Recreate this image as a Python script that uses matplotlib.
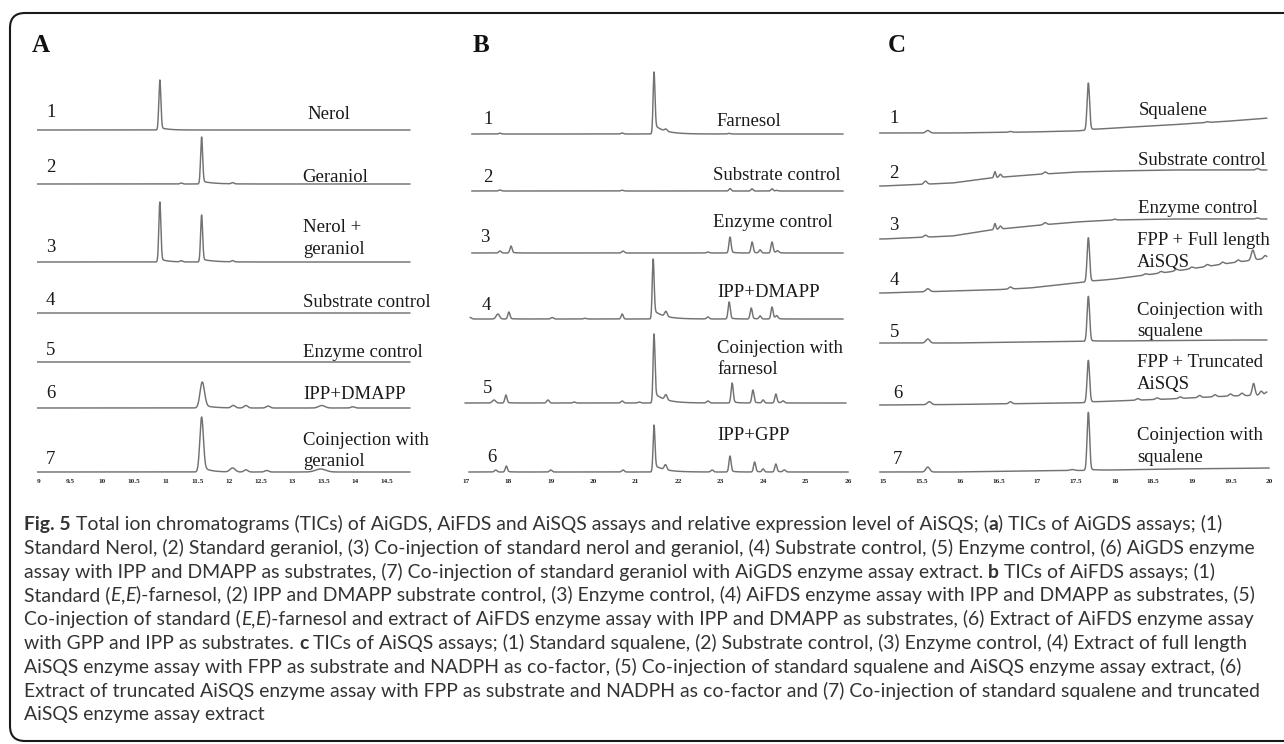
import numpy as np
import matplotlib
matplotlib.use("Agg")
import matplotlib.pyplot as plt
from matplotlib.patches import FancyBboxPatch
from matplotlib.transforms import IdentityTransform

W, H = 1284, 744

# ------------------------------------------------------------------ DATA
# peaks: (retention time [min], height [a.u.], sigma [min], tail fraction, tail tau [min])
A_ticks = [9, 9.5, 10, 10.5, 11, 11.5, 12, 12.5, 13, 13.5, 14, 14.5]
A_numbers = ["1", "2", "3", "4", "5", "6", "7"]
A_names = ["Nerol", "Geraniol", "Nerol +\ngeraniol", "Substrate control",
           "Enzyme control", "IPP+DMAPP", "Coinjection with\ngeraniol"]
A_peaks = [
    [(10.91, 50, 0.016, 0.05, 0.12)],
    [(11.57, 47, 0.016, 0.06, 0.18), (11.25, 1.0, 0.02), (12.06, 1.2, 0.02)],
    [(10.91, 60, 0.016, 0.05, 0.12), (11.57, 47, 0.016, 0.06, 0.18),
     (11.25, 1.2, 0.02), (12.06, 1.2, 0.02)],
    [],
    [],
    [(11.58, 26, 0.035, 0.12, 0.15), (12.07, 2.5, 0.03), (12.27, 2.5, 0.03),
     (12.62, 2.0, 0.03), (13.47, 2.5, 0.05), (13.96, 1.2, 0.03)],
    [(11.57, 55, 0.028, 0.10, 0.12), (12.06, 4.0, 0.04), (12.27, 2.2, 0.03),
     (12.60, 1.5, 0.03), (13.45, 3.0, 0.08)],
]
A_range = [(8.98, 14.86)] * 7

B_ticks = [17, 18, 19, 20, 21, 22, 23, 24, 25, 26]
B_numbers = ["1", "2", "3", "4", "5", "6"]
B_names = ["Farnesol", "Substrate control", "Enzyme control", "IPP+DMAPP",
           "Coinjection with\nfarnesol", "IPP+GPP"]
B_peaks = [
    [(17.8, 0.8, 0.03), (20.68, 1.0, 0.03), (21.43, 62, 0.022, 0.15, 0.25),
     (21.71, 2.0, 0.03), (23.2, 0.6, 0.03)],
    [(17.8, 1.0, 0.03), (20.68, 0.8, 0.03), (23.22, 2.5, 0.025),
     (23.74, 2.2, 0.025), (24.21, 2.2, 0.025), (24.32, 0.6, 0.03)],
    [(17.8, 2.0, 0.03), (18.06, 7, 0.025, 0.10, 0.10), (20.70, 2.0, 0.03),
     (22.7, 1.0, 0.03), (23.22, 16, 0.025, 0.08, 0.10), (23.74, 11, 0.025, 0.08, 0.10),
     (23.93, 3.0, 0.025), (24.21, 11, 0.025, 0.10, 0.10), (24.34, 2.0, 0.03)],
    [(17.1, 1.5, 0.03), (17.75, 5, 0.04), (18.01, 7, 0.025, 0.08, 0.1),
     (19.03, 1.5, 0.03), (19.8, 0.7, 0.03), (20.68, 5, 0.025),
     (21.41, 60, 0.022, 0.15, 0.25), (21.71, 5, 0.03), (22.7, 2, 0.03),
     (23.2, 17, 0.025, 0.08, 0.1), (23.72, 11, 0.025, 0.08, 0.1), (23.93, 3, 0.025),
     (24.21, 12, 0.025, 0.10, 0.1), (24.32, 3, 0.03)],
    [(17.66, 3, 0.04), (17.94, 8, 0.025, 0.08, 0.1), (18.93, 3, 0.03),
     (19.55, 1, 0.03), (20.68, 2, 0.03), (21.08, 1, 0.03),
     (21.43, 69, 0.022, 0.15, 0.25), (21.71, 5, 0.03), (22.7, 2, 0.03),
     (23.27, 20, 0.025, 0.08, 0.1), (23.76, 13, 0.025, 0.08, 0.1), (24.0, 3, 0.025),
     (24.30, 9, 0.025, 0.10, 0.1), (24.47, 2, 0.03)],
    [(17.7, 2, 0.03), (17.95, 6, 0.025, 0.08, 0.1), (19.0, 2, 0.03),
     (20.7, 2, 0.03), (21.43, 47, 0.022, 0.15, 0.25), (21.7, 5, 0.03),
     (22.8, 2, 0.03), (23.22, 16, 0.025, 0.08, 0.1), (23.8, 10, 0.025, 0.08, 0.1),
     (24.0, 3, 0.025), (24.3, 8, 0.025, 0.10, 0.1), (24.5, 2, 0.03)],
]
B_range = [(17.14, 25.88), (17.14, 25.88), (17.14, 25.88), (17.10, 25.88),
           (16.98, 25.95), (17.07, 26.0)]

C_ticks = [15, 15.5, 16, 16.5, 17, 17.5, 18, 18.5, 19, 19.5, 20]
C_numbers = ["1", "2", "3", "4", "5", "6", "7"]
C_names = ["Squalene", "Substrate control", "Enzyme control",
           "FPP + Full length\nAiSQS", "Coinjection with\nsqualene",
           "FPP + Truncated\nAiSQS", "Coinjection with\nsqualene"]
C_peaks = [
    [(15.58, 2.5, 0.025), (16.65, 0.8, 0.02), (17.66, 47, 0.016, 0.02, 0.1),
     (19.2, 0.8, 0.02)],
    [(15.55, 3, 0.02), (16.45, 6, 0.012), (16.52, 3, 0.015), (17.1, 2, 0.02),
     (19.85, 1.5, 0.02)],
    [(15.55, 2, 0.02), (16.45, 6, 0.012), (16.52, 3, 0.015), (17.1, 2, 0.02),
     (18.0, 0.8, 0.02), (19.85, 1.0, 0.02)],
    [(15.58, 3, 0.025), (16.65, 2, 0.02), (17.66, 44, 0.016, 0.02, 0.1),
     (18.4, 1.2, 0.02), (18.6, 1.5, 0.02), (18.8, 1.5, 0.02), (19.0, 1.5, 0.02),
     (19.2, 1.8, 0.02), (19.4, 2, 0.02), (19.6, 2, 0.02), (19.79, 10, 0.02),
     (19.95, 3, 0.02)],
    [(15.58, 4, 0.025), (17.66, 45, 0.016, 0.02, 0.1)],
    [(15.6, 3, 0.025), (16.65, 2, 0.02), (17.66, 42, 0.016, 0.02, 0.1),
     (18.3, 1.5, 0.02), (18.55, 1.5, 0.02), (18.85, 1.5, 0.02), (19.1, 2, 0.02),
     (19.3, 2, 0.02), (19.5, 2, 0.02), (19.65, 2.5, 0.02), (19.8, 12, 0.018),
     (19.9, 4, 0.02), (19.97, 3, 0.02)],
    [(15.58, 5, 0.025), (17.45, 1, 0.03), (17.66, 58, 0.016, 0.02, 0.1)],
]
# baseline drift (a.u.) at these retention times, one row per trace
C_drift_t = [15.0, 15.9, 16.4, 16.9, 17.5, 18.0, 18.7, 19.5, 20.0]
C_drift = [
    [0, 0, 0.5, 1, 2, 5, 8, 12, 15],
    [0, 3, 8, 11, 14, 15, 16, 16, 16],
    [0, 3, 9, 13, 17, 19, 20, 20, 20],
    [0, 2, 3, 5, 10, 14, 21, 30, 35],
    [0, 0, 0.5, 1, 1.5, 2, 2.5, 3, 3],
    [0, 0.5, 1, 1.5, 2, 4, 6, 9, 10],
    [0, 0, 0.5, 1, 1.5, 2, 3, 3.5, 4],
]
C_range = [(14.96, 19.97)] * 6 + [(14.96, 20.0)]

caption = [
    [("Fig. 5", "b"), (" Total ion chromatograms (TICs) of AiGDS, AiFDS and AiSQS assays and relative expression level of AiSQS; (", "n"), ("a", "b"), (") TICs of AiGDS assays; (1)", "n")],
    [("Standard Nerol, (2) Standard geraniol, (3) Co-injection of standard nerol and geraniol, (4) Substrate control, (5) Enzyme control, (6) AiGDS enzyme", "n")],
    [("assay with IPP and DMAPP as substrates, (7) Co-injection of standard geraniol with AiGDS enzyme assay extract. ", "n"), ("b", "b"), (" TICs of AiFDS assays; (1)", "n")],
    [("Standard (", "n"), ("E", "i"), (",", "n"), ("E", "i"), (")-farnesol, (2) IPP and DMAPP substrate control, (3) Enzyme control, (4) AiFDS enzyme assay with IPP and DMAPP as substrates, (5)", "n")],
    [("Co-injection of standard (", "n"), ("E", "i"), (",", "n"), ("E", "i"), (")-farnesol and extract of AiFDS enzyme assay with IPP and DMAPP as substrates, (6) Extract of AiFDS enzyme assay", "n")],
    [("with GPP and IPP as substrates. ", "n"), ("c", "b"), (" TICs of AiSQS assays; (1) Standard squalene, (2) Substrate control, (3) Enzyme control, (4) Extract of full length", "n")],
    [("AiSQS enzyme assay with FPP as substrate and NADPH as co-factor, (5) Co-injection of standard squalene and AiSQS enzyme assay extract, (6)", "n")],
    [("Extract of truncated AiSQS enzyme assay with FPP as substrate and NADPH as co-factor and (7) Co-injection of standard squalene and truncated", "n")],
    [("AiSQS enzyme assay extract", "n")],
]

# ------------------------------------------------------------------ LAYOUT (pixels)
LINE = "#727272"
TXT = "#1a1a1a"
SERIF = ["Liberation Serif", "DejaVu Serif"]
CAPFONT = ["Lato", "DejaVu Sans"]

panels = [
    dict(letter="A", letter_x=32, cal=(9, 39, 14.5, 387), box=(28, 420),
         base=[130, 184, 262, 313, 362, 408, 472],
         num_x=[46] * 7, num_y=[117, 172, 252, 305, 355, 398, 464],
         name_x=[307, 302, 303, 303, 303, 303, 303],
         name_y=[119, 182, 232, 307, 357, 399, 445],
         ticks=A_ticks, peaks=A_peaks, rng=A_range, nums=A_numbers, names=A_names,
         drift=None),
    dict(letter="B", letter_x=473, cal=(17, 466, 26, 848), box=(455, 860),
         base=[134, 191, 253, 319, 403, 472],
         num_x=[483, 483, 480, 482, 483, 487], num_y=[124, 182, 242, 310, 393, 462],
         name_x=[716, 713, 713, 717, 717, 717],
         name_y=[126, 180, 227, 297, 353, 440],
         ticks=B_ticks, peaks=B_peaks, rng=B_range, nums=B_numbers, names=B_names,
         drift=None),
    dict(letter="C", letter_x=888, cal=(15, 883, 20, 1269), box=(868, 1282),
         base=[133, 186, 239, 293, 343, 405, 472],
         num_x=[889, 889, 889, 890, 890, 893, 893],
         num_y=[123, 178, 230, 285, 337, 398, 464],
         name_x=[1139, 1138, 1138, 1137, 1137, 1137, 1137],
         name_y=[115, 165, 213, 245, 315, 367, 440],
         ticks=C_ticks, peaks=C_peaks, rng=C_range, nums=C_numbers, names=C_names,
         drift=(C_drift_t, C_drift)),
]
Y_TOP, Y_BOT = 55, 500
LINE_GAP = 21.5


def signal(t, peaks):
    y = np.zeros_like(t)
    for p in peaks:
        rt, h, s = p[0], p[1], p[2]
        tf = p[3] if len(p) > 3 else 0.0
        tau = p[4] if len(p) > 4 else 0.1
        z = (t - rt) / s
        g = np.exp(-0.5 * z * z)
        y = y + h * g
        if tf > 0:
            d = np.clip(t - rt, 0, None)
            y = y + h * tf * np.exp(-d / tau) * (1 - g) * (t > rt)
    return y


fig = plt.figure(figsize=(W / 100, H / 100), dpi=100)
bg = fig.add_axes([0, 0, 1, 1])
bg.set_xlim(0, W)
bg.set_ylim(H, 0)
bg.axis("off")
bg.add_patch(FancyBboxPatch((10, 13), 1330, 728,
                            boxstyle="round,pad=0,rounding_size=15",
                            fill=False, lw=1.5, ec="#1a1a1a"))

for P in panels:
    t0, p0, t1, p1 = P["cal"]
    k = (p1 - p0) / (t1 - t0)
    bx0, bx1 = P["box"]
    ax = fig.add_axes([bx0 / W, 1 - Y_BOT / H, (bx1 - bx0) / W, (Y_BOT - Y_TOP) / H])
    ax.patch.set_alpha(0)
    ax.set_xlim(t0 + (bx0 - p0) / k, t0 + (bx1 - p0) / k)
    ax.set_ylim(Y_BOT, Y_TOP)
    for s in ["top", "left", "right"]:
        ax.spines[s].set_visible(False)
    ax.spines["bottom"].set_visible(False)
    ax.spines["bottom"].set_position(("data", 477))
    ax.set_yticks([])
    ax.set_xticks(P["ticks"])
    ax.set_xticklabels([("%g" % v) for v in P["ticks"]])
    ax.tick_params(axis="x", length=0, pad=1.2, labelsize=5.2, labelcolor="#222")
    for lab in ax.get_xticklabels():
        lab.set_fontfamily(SERIF)
        lab.set_fontweight("bold")
    for i, pk in enumerate(P["peaks"]):
        a, b = P["rng"][i]
        t = np.linspace(a, b, 5000)
        y = signal(t, pk)
        if P["drift"] is not None:
            y = y + np.interp(t, P["drift"][0], P["drift"][1][i])
        ax.plot(t, P["base"][i] - y, color=LINE, lw=1.05, solid_joinstyle="round")
    # letters / numbers / names
    bg.text(P["letter_x"], 52, P["letter"], fontsize=18, fontweight="bold",
            family=SERIF, color="#111", ha="left", va="baseline")
    for i in range(len(P["nums"])):
        bg.text(P["num_x"][i], P["num_y"][i], P["nums"][i], fontsize=13.5,
                family=SERIF, color=TXT, ha="left", va="baseline")
        for j, line in enumerate(P["names"][i].split("\n")):
            bg.text(P["name_x"][i], P["name_y"][i] + j * LINE_GAP, line, fontsize=13.5,
                    family=SERIF, color=TXT, ha="left", va="baseline")

# ------------------------------------------------------------------ caption
fig.canvas.draw()
renderer = fig.canvas.get_renderer()
STY = {"n": dict(), "b": dict(fontweight="bold"), "i": dict(fontstyle="italic")}


def seg_width(s, fs, sty):
    kw = dict(fontsize=fs, family=CAPFONT, **STY[sty])
    a = fig.text(0, 0, "|" + s + "|", **kw)
    b = fig.text(0, 0, "||", **kw)
    w = a.get_window_extent(renderer).width - b.get_window_extent(renderer).width
    a.remove()
    b.remove()
    return w


ref_fs = 12.0
w_ref = sum(seg_width(s, ref_fs, st) for s, st in caption[7])
cap_fs = ref_fs * 1228.0 / w_ref

x_left, y0, dy = 24, 530, 23.8
for li, line in enumerate(caption):
    x = x_left
    for s, st in line:
        fig.text(x, H - (y0 + li * dy), s, transform=IdentityTransform(),
                 fontsize=cap_fs, family=CAPFONT, color="#333333",
                 ha="left", va="baseline", **STY[st])
        x += seg_width(s, cap_fs, st)

fig.savefig("out.png", dpi=100)
